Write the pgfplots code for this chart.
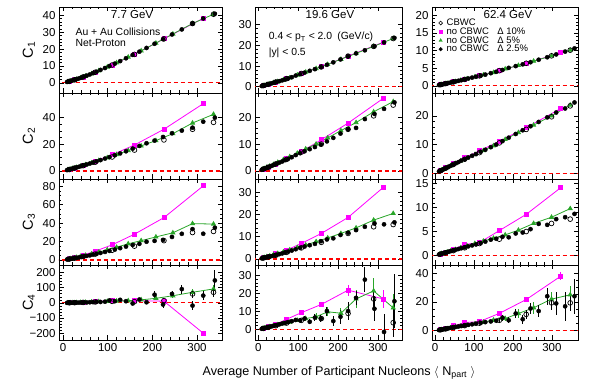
\documentclass[border=0pt]{standalone}
\usepackage{fontspec}
\setmainfont{Liberation Sans}
\usepackage{pgfplots}
\usepackage{pgfplotstable}
\pgfplotsset{compat=1.18}
\definecolor{magc}{RGB}{255,0,255}
\definecolor{grnc}{RGB}{40,165,40}
\definecolor{zred}{RGB}{255,0,0}

% ---------------- 7.7 GeV ----------------
\pgfplotstableread{
N c1 c2 c3 c4 e4
340 41.0 40.0 35.0 148 70
314 38.2 37.0 28.5 48 30
290 35.1 32.5 33.5 -18 32
266 31.7 30.3 28.4 91 30
244 28.7 28.3 25.0 59 22
224 25.9 25.5 21.8 -11 25
205 23.2 22.8 20.7 54 22
187 20.7 20.8 19.8 4 8
171 18.5 18.8 17.5 22 8
156 16.6 16.8 16.3 -4 6
141 14.6 14.8 14.5 11 5
128 12.9 13.2 12.8 20 5
116 11.4 11.8 11.3 11 4
104 10.0 10.4 9.8 16 4
94 8.8 9.3 8.7 8 3
84 7.7 8.2 7.6 6 3
75 6.6 7.2 6.6 7 2
67 5.8 6.3 5.8 5 2
60 5.0 5.6 5.0 4 2
53 4.3 4.9 4.4 3 1.5
47 3.7 4.3 3.8 3 1.5
41 3.1 3.7 3.2 2 1
36 2.7 3.2 2.8 2 1
31 2.3 2.7 2.3 1.5 1
27 1.9 2.3 2.0 1 1
24 1.7 2.0 1.7 1 0.5
20 1.4 1.7 1.4 0.8 0.5
17 1.2 1.4 1.2 0.6 0.5
15 1.0 1.2 1.0 0.5 0.3
13 0.85 1.0 0.85 0.4 0.3
11 0.7 0.85 0.7 0.3 0.2
9 0.55 0.7 0.55 0.3 0.2
}\blkA
\pgfplotstableread{
N c1 c2 c3 c4 e4
337 40.7 42.5 39.0 92 25
290 35.2 36.0 39.5 70 20
246 29.0 28.0 29.5 47 15
208 23.6 22.8 25.0 30 10
175 19.0 18.8 21.0 20 7
146 15.3 15.3 17.5 14 5
120 11.9 12.3 13.8 12 4
99 9.4 9.9 11.0 10 3
80 7.2 7.8 8.6 8 2.5
64 5.4 6.1 6.6 6 2
50 4.0 4.7 5.0 4.5 1.5
39 2.9 3.6 3.8 3 1
30 2.1 2.7 2.8 2 1
22 1.5 2.0 2.0 1.5 0.5
16 1.0 1.4 1.4 1 0.5
11 0.65 1.0 0.9 0.5 0.3
}\grnA
\pgfplotstableread{
N c1 c2 c3 c4 e4
314 38.3 50.5 80.5 -200 15
226 26.1 31.3 46.0 11 10
160 16.9 19.5 28.0 15 5
110 10.6 12.2 16.4 14 4
72 6.3 7.5 9.5 10 2
45 3.5 4.3 5.3 5 1.5
26 1.8 2.3 2.8 2 1
14 0.9 1.1 1.3 0.8 0.5
}\magA
\pgfplotstableread{
N c1 c2 c3 c4 e4
337 40.7 36.5 31.0 70 28
290 35.2 31.3 29.8 59 25
226 26.1 23.3 21.0 15 15
160 16.9 15.7 15.0 8 6
110 10.6 10.5 10.5 10 4
72 6.3 6.6 6.4 6 2
45 3.5 4.0 3.8 3 1.5
26 1.8 2.2 2.0 1.5 1
14 0.9 1.1 1.0 0.6 0.5
}\opnA

% ---------------- 19.6 GeV ----------------
\pgfplotstableread{
N c1 c2 c3 c4 e4
341 23.6 25.5 16.5 15.7 15
315 21.4 23.1 15.6 -1.5 10
291 19.5 21.2 16.0 11.5 7
267 17.6 19.3 14.5 27.8 7
245 16.1 16.0 13.0 17.6 4
225 14.7 15.5 11.8 10.2 5
206 13.2 13.9 10.8 7.0 4
188 11.8 12.3 9.3 4.6 3
172 10.6 11.0 8.8 10.2 2.5
157 9.5 9.8 8.0 6.0 2
142 8.5 8.9 6.8 6.5 2
129 7.7 8.1 6.2 4.2 1.5
116 6.8 7.3 5.6 6.0 1.5
105 6.1 6.6 5.0 5.0 1.2
94 5.4 5.9 4.4 5.2 1
84 4.6 5.1 3.8 4.5 0.8
75 4.0 4.5 3.3 4.0 0.7
67 3.5 4.0 2.9 3.5 0.6
60 3.1 3.5 2.5 3.2 0.5
53 2.7 3.1 2.2 2.8 0.4
47 2.4 2.7 1.9 2.4 0.4
41 2.05 2.35 1.6 2.1 0.3
36 1.8 2.05 1.4 1.8 0.3
31 1.5 1.75 1.2 1.5 0.2
27 1.3 1.5 1.0 1.3 0.2
24 1.1 1.3 0.9 1.1 0.2
20 0.9 1.1 0.75 0.9 0.1
17 0.75 0.9 0.62 0.75 0.1
15 0.65 0.8 0.55 0.6 0.1
13 0.55 0.7 0.47 0.5 0.1
11 0.45 0.55 0.4 0.4 0.1
9 0.35 0.45 0.3 0.3 0.1
}\blkB
\pgfplotstableread{
N c1 c2 c3 c4 e4
338 23.3 25.8 20.5 12 8
289 19.5 22.0 17.5 21.5 7
245 16.1 18.0 14.0 17 5
207 13.3 15.0 11.5 9 3
174 10.8 12.3 9.5 9.8 2.5
145 8.8 10.0 7.8 7 2
119 7.1 8.2 6.3 6 1.5
98 5.7 6.6 5.2 5 1
79 4.3 5.3 4.1 4 0.8
63 3.4 4.2 3.2 3.2 0.6
49 2.5 3.2 2.5 2.5 0.5
38 2.0 2.4 1.9 1.9 0.4
29 1.4 1.8 1.4 1.4 0.3
21 1.0 1.3 1.0 1.0 0.2
15 0.7 0.9 0.7 0.7 0.2
10 0.45 0.6 0.45 0.4 0.1
}\grnB
\pgfplotstableread{
N c1 c2 c3 c4 e4
313 21.5 27.0 32.2 17 5
225 14.8 17.8 18.7 21.9 3
158 9.6 11.6 11.5 13.9 1.5
108 6.4 7.2 7.0 9.3 1
71 3.9 4.5 4.0 5.6 0.7
44 2.3 2.6 2.3 2.8 0.4
25 1.2 1.4 1.2 1.4 0.3
13 0.6 0.7 0.6 0.6 0.2
}\magB
\pgfplotstableread{
N c1 c2 c3 c4 e4
338 23.3 24.5 15.5 3.7 8
289 19.5 20.5 14.5 17 5
225 14.8 15.5 11.5 8.9 3
158 9.6 10.0 7.5 6 1.5
108 6.4 7.0 5.0 5 1
71 3.9 4.3 3.0 3.5 0.6
44 2.3 2.6 1.7 2 0.3
25 1.2 1.4 0.9 1.1 0.2
13 0.6 0.7 0.45 0.5 0.1
}\opnB

% ---------------- 62.4 GeV ----------------
\pgfplotstableread{
N c1 c2 c3 c4 e4
358 10.6 24.7 8.7 24 12
334 9.7 22.6 8.0 17 10
311 8.9 21.2 7.6 19 8
288 8.1 19.5 6.4 24 6
266 7.4 17.9 6.6 13.7 4
245 6.7 16.4 5.5 15.5 4
225 6.1 15.0 4.8 8 3
207 5.6 13.7 4.6 12 3
189 5.1 12.4 3.8 7.3 2
173 4.5 11.2 3.9 9.1 2
157 4.0 10.0 3.5 7 1.5
143 3.6 9.1 3.3 6.5 1.2
129 3.2 8.2 2.9 6 1
117 2.9 7.5 2.6 5.5 0.9
105 2.6 6.7 2.3 4.9 0.8
95 2.35 6.1 2.1 4.5 0.7
85 2.1 5.5 1.9 4.1 0.6
76 1.85 4.9 1.7 3.7 0.5
67 1.6 4.4 1.5 3.3 0.45
60 1.45 3.9 1.35 3.0 0.4
53 1.28 3.5 1.2 2.7 0.35
46 1.1 3.0 1.05 2.4 0.3
40 0.95 2.6 0.9 2.1 0.25
35 0.83 2.3 0.8 1.8 0.2
31 0.73 2.0 0.7 1.6 0.2
27 0.64 1.75 0.6 1.4 0.15
23 0.55 1.5 0.5 1.2 0.15
20 0.48 1.3 0.43 1.0 0.1
17 0.41 1.1 0.37 0.85 0.1
14 0.35 0.9 0.3 0.7 0.1
12 0.3 0.8 0.25 0.6 0.1
10 0.25 0.65 0.2 0.5 0.1
}\blkC
\pgfplotstableread{
N c1 c2 c3 c4 e4
347 10.1 23.8 9.8 25 6
299 8.5 20.0 8.0 22 5
253 7.0 16.8 6.7 16 4
214 5.8 14.2 5.3 12 3
180 4.8 11.8 4.3 8.5 2
150 3.8 9.6 3.6 7.5 1.5
124 3.1 7.9 3.0 6 1.2
102 2.55 6.5 2.5 4.8 1
82 2.0 5.3 2.0 4 0.8
66 1.6 4.3 1.6 3.3 0.6
52 1.25 3.4 1.25 2.6 0.5
40 0.95 2.6 0.95 2 0.4
31 0.73 2.0 0.72 1.5 0.3
23 0.55 1.5 0.53 1.1 0.2
17 0.41 1.1 0.4 0.8 0.15
12 0.3 0.8 0.28 0.55 0.1
}\grnC
\pgfplotstableread{
N c1 c2 c3 c4 e4
323 9.4 22.6 14.2 38 3
234 6.4 15.9 8.6 21.7 1.5
165 4.3 11.2 5.2 12.1 1
114 2.85 7.8 2.7 6.4 0.7
76 1.85 5.5 2.3 5.7 0.5
47 1.15 3.5 1.3 3.4 0.3
27 0.65 2.0 0.7 1.8 0.2
14 0.35 1.0 0.3 0.8 0.1
}\magC
\pgfplotstableread{
N c1 c2 c3 c4 e4
347 10.1 23.5 7.6 19.4 6
299 8.5 19.7 6.7 19.4 5
234 6.4 15.3 5.0 11.4 3
165 4.3 10.6 3.4 7.3 1.5
114 2.85 7.2 2.5 5.3 0.9
76 1.85 4.9 1.6 3.6 0.5
47 1.15 3.1 1.0 2.3 0.3
27 0.65 1.8 0.55 1.3 0.15
14 0.35 0.9 0.28 0.7 0.1
}\opnC

\pgfplotsset{
  panel/.style={scale only axis, tick align=inside,
    major tick length=4.5pt, minor tick length=2.5pt,
    axis line style={line width=0.8pt},
    every tick/.style={black, line width=0.6pt},
    xtick={0,100,200,300}, minor x tick num=4,
    ticklabel style={font=\fontsize{11.5}{12}\selectfont},
    /pgf/number format/assume math mode=true,
    every axis y label/.style={at={(axis description cs:-0.185,0.5)}, rotate=90, anchor=center, font=\fontsize{14.5}{15}\selectfont},
    clip=true},
  colA/.style={width=163pt, xmin=-9, xmax=356},
  colB/.style={width=147pt, xmin=-8, xmax=360},
  colC/.style={width=146pt, xmin=-8, xmax=367},
  rowH/.style={height=86pt, xticklabels={}},
  rowL/.style={height=75pt},
  zline/.style={draw=zred, color=zred, dash pattern=on 4pt off 3pt, line width=1.15pt, forget plot},
  mags/.style={magc, mark=square*, mark size=2pt, line width=0.8pt, forget plot},
  grns/.style={grnc, mark=triangle*, mark size=2.3pt, line width=0.8pt, forget plot},
  blks/.style={black, only marks, mark=*, mark size=2.1pt, forget plot},
  opns/.style={black, only marks, mark=o, mark size=2.4pt, mark options={line width=0.7pt}, forget plot},
  ebar/.style={error bars/.cd, y dir=both, y explicit, error mark=none, error bar style={line width=0.9pt}},
}

\newcommand{\drawpanel}[5]{%
  \addplot[zline] coordinates {(-50,0) (400,0)};
  \addplot[mags] table[x=N,y=#5]{#1};
  \addplot[grns] table[x=N,y=#5]{#2};
  \addplot[blks] table[x=N,y=#5]{#3};
  \addplot[opns] table[x=N,y=#5]{#4};
}
\newcommand{\drawpanelerr}[4]{%
  \addplot[zline] coordinates {(-50,0) (400,0)};
  \addplot[mags, ebar] table[x=N,y=c4,y error=e4]{#1};
  \addplot[grns, ebar] table[x=N,y=c4,y error=e4]{#2};
  \addplot[blks, ebar] table[x=N,y=c4,y error=e4]{#3};
  \addplot[opns, ebar] table[x=N,y=c4,y error=e4]{#4};
}

\begin{document}
\begin{tikzpicture}
\useasboundingbox (0,0) rectangle (600pt,387pt);

% ===== Row 1 : C1 =====
\begin{axis}[panel, colA, rowH, at={(59pt,294pt)}, anchor=south west,
  ymin=-6, ymax=45, ytick={0,10,20,30,40}, minor y tick num=4, ylabel={C\textsubscript{1}}]
  \drawpanel{\magA}{\grnA}{\blkA}{\opnA}{c1}
  \node[font=\fontsize{11.5}{12}\selectfont] at (axis description cs:0.448,0.907) {7.7 GeV};
  \node[anchor=west, font=\fontsize{10.4}{11}\selectfont] at (axis description cs:0.08,0.709) {Au + Au Collisions};
  \node[anchor=west, font=\fontsize{10.4}{11}\selectfont] at (axis description cs:0.08,0.581) {Net-Proton};
\end{axis}
\begin{axis}[panel, colB, rowH, at={(255pt,294pt)}, anchor=south west,
  ymin=-3, ymax=38.5, ytick={0,10,20,30}, minor y tick num=4]
  \drawpanel{\magB}{\grnB}{\blkB}{\opnB}{c1}
  \node[font=\fontsize{11.5}{12}\selectfont] at (axis description cs:0.51,0.907) {19.6 GeV};
  \node[anchor=west, font=\fontsize{10.4}{11}\selectfont] at (axis description cs:0.07,0.651) {0.4 < p\textsubscript{T} < 2.0\enspace(GeV/c)};
  \node[anchor=west, font=\fontsize{10.4}{11}\selectfont] at (axis description cs:0.07,0.465) {|y| < 0.5};
\end{axis}
\begin{axis}[panel, colC, rowH, at={(432pt,294pt)}, anchor=south west,
  ymin=-2, ymax=22.3, ytick={0,5,10,15,20}, minor y tick num=4,
  legend style={at={(axis description cs:0.045,0.87)}, anchor=north west, draw=none, fill=none,
    font=\fontsize{9.5}{9.5}\selectfont, row sep=-0.6pt, inner sep=0pt, nodes={inner sep=0.6pt}},
  legend cell align=left,
  legend image code/.code={\draw[mark repeat=2,mark phase=2,#1] plot coordinates {(0cm,0cm)(0.1cm,0cm)(0.2cm,0cm)};}]
  \drawpanel{\magC}{\grnC}{\blkC}{\opnC}{c1}
  \node[font=\fontsize{11.5}{12}\selectfont] at (axis description cs:0.52,0.907) {62.4 GeV};
  \addlegendimage{black, only marks, mark=o, mark size=1.9pt, mark options={line width=0.6pt}}
  \addlegendentry{\hspace*{3.5pt}CBWC}
  \addlegendimage{magc, only marks, mark=square*, mark size=1.7pt}
  \addlegendentry{\hspace*{3.5pt}no CBWC\hspace{0.9em}Δ 10\%}
  \addlegendimage{grnc, only marks, mark=triangle*, mark size=1.9pt}
  \addlegendentry{\hspace*{3.5pt}no CBWC\hspace{0.9em}Δ 5\%}
  \addlegendimage{black, only marks, mark=*, mark size=1.8pt}
  \addlegendentry{\hspace*{3.5pt}no CBWC\hspace{0.9em}Δ 2.5\%}
\end{axis}

% ===== Row 2 : C2 =====
\begin{axis}[panel, colA, rowH, at={(59pt,208pt)}, anchor=south west,
  ymin=-6, ymax=58.5, ytick={0,20,40}, minor y tick num=3, ylabel={C\textsubscript{2}}]
  \drawpanel{\magA}{\grnA}{\blkA}{\opnA}{c2}
\end{axis}
\begin{axis}[panel, colB, rowH, at={(255pt,208pt)}, anchor=south west,
  ymin=-3, ymax=29, ytick={0,10,20}, minor y tick num=4]
  \drawpanel{\magB}{\grnB}{\blkB}{\opnB}{c2}
\end{axis}
\begin{axis}[panel, colC, rowH, at={(432pt,208pt)}, anchor=south west,
  ymin=-2, ymax=28, ytick={0,10,20}, minor y tick num=4]
  \drawpanel{\magC}{\grnC}{\blkC}{\opnC}{c2}
\end{axis}

% ===== Row 3 : C3 =====
\begin{axis}[panel, colA, rowH, at={(59pt,122pt)}, anchor=south west,
  ymin=-5.5, ymax=88, ytick={0,20,40,60,80}, minor y tick num=3, ylabel={C\textsubscript{3}}]
  \drawpanel{\magA}{\grnA}{\blkA}{\opnA}{c3}
\end{axis}
\begin{axis}[panel, colB, rowH, at={(255pt,122pt)}, anchor=south west,
  ymin=-2.7, ymax=36, ytick={0,10,20,30}, minor y tick num=4]
  \drawpanel{\magB}{\grnB}{\blkB}{\opnB}{c3}
\end{axis}
\begin{axis}[panel, colC, rowH, at={(432pt,122pt)}, anchor=south west,
  ymin=-2, ymax=16, ytick={0,5,10,15}, minor y tick num=4]
  \drawpanel{\magC}{\grnC}{\blkC}{\opnC}{c3}
\end{axis}

% ===== Row 4 : C4 =====
\begin{axis}[panel, colA, rowL, at={(59pt,47pt)}, anchor=south west,
  ymin=-245, ymax=250, ytick={-200,-100,0,100,200}, yticklabels={−200,−100,0,100,200},
  minor y tick num=4, ylabel={C\textsubscript{4}}]
  \drawpanelerr{\magA}{\grnA}{\blkA}{\opnA}
\end{axis}
\begin{axis}[panel, colB, rowL, at={(255pt,47pt)}, anchor=south west,
  ymin=-6, ymax=36, ytick={0,10,20,30}, minor y tick num=4]
  \drawpanelerr{\magB}{\grnB}{\blkB}{\opnB}
\end{axis}
\begin{axis}[panel, colC, rowL, at={(432pt,47pt)}, anchor=south west,
  ymin=-6.4, ymax=45.7, ytick={0,20,40}, minor y tick num=3]
  \drawpanelerr{\magC}{\grnC}{\blkC}{\opnC}
\end{axis}

\node[anchor=base, font=\fontsize{12.6}{13}\selectfont] at (339pt,11pt)
  {Average Number of Participant Nucleons $\langle$ N\textsubscript{part} $\rangle$};
\end{tikzpicture}
\end{document}
